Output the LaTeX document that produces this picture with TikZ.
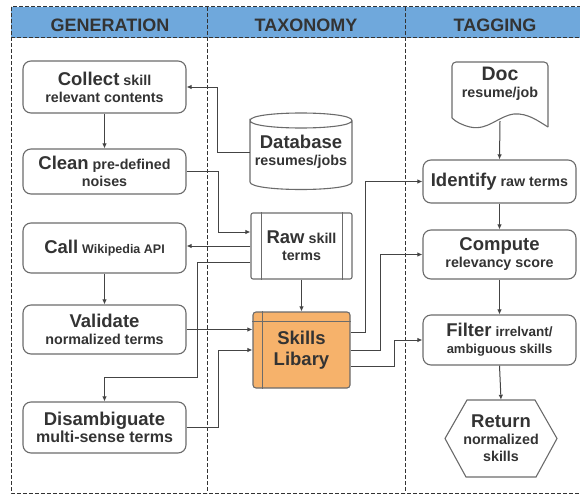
\documentclass[tikz,border=0pt]{standalone}
\usepackage{fontspec}
\setmainfont{Liberation Sans}
\usetikzlibrary{arrows.meta,calc}
\definecolor{hdr}{HTML}{6FA8DC}
\definecolor{org}{HTML}{F6B26B}
\definecolor{txt}{HTML}{333333}
\definecolor{ln}{HTML}{444444}
\definecolor{bd}{HTML}{6B6B6B}
\newcommand\bw[1]{{\fontsize{18.5}{17}\selectfont #1}}
\newcommand\sw[1]{{\fontsize{12.5}{17}\selectfont #1}}
\begin{document}
\begin{tikzpicture}[x=1pt,y=-1pt, font=\bfseries\fontsize{14.3}{17}\selectfont, text=txt,
 box/.style={draw=bd, line width=1.1pt, rounded corners=8pt, align=center, inner sep=0pt, minimum width=163pt},
 tbox/.style={box, minimum width=153pt},
 shp/.style={draw=bd, line width=1.1pt},
 arr/.style={draw=ln, line width=1pt, -{Latex[length=5pt,width=4.5pt]}},
 frame/.style={draw=txt, line width=1pt, dash pattern=on 4pt off 2pt},
 hdrtext/.style={font=\bfseries\fontsize{18}{20}\selectfont, anchor=base, text=txt}]

\useasboundingbox (0,0) rectangle (580,495);
% frame and header
\fill[hdr] (11,7) rectangle (584,38);
\draw[frame] (11,7) rectangle (584,493);
\draw[frame] (11,38) -- (584,38);
\draw[frame] (207,7) -- (207,493);
\draw[frame] (405,7) -- (405,493);
\node[hdrtext] (hgen) at (110,31.5) {GENERATION};
\node[hdrtext] (htax) at (306,31.5) {TAXONOMY};
\node[hdrtext] (htag) at (495,31.5) {TAGGING};

% generation column
\node[box, minimum height=52pt] (collect) at (104.5,87) {\bw{Collect} skill\\relevant contents};
\node[box, minimum height=45pt] (clean) at (104.5,171.5) {\bw{Clean} pre-defined\\noises};
\node[box, minimum height=50pt] (call) at (104.5,248) {\bw{Call} \sw{Wikipedia API}};
\node[box, minimum height=49pt] (validate) at (104.5,329.5) {\bw{Validate}\\normalized terms};
\node[box, minimum height=51pt] (disamb) at (104.5,427.5) {\bw{Disambiguate}\\{\fontsize{16}{17}\selectfont multi-sense terms}};

% taxonomy column
\draw[shp] (250,120.5) .. controls (250,110.5) and (352,110.5) .. (352,120.5)
  .. controls (352,130.5) and (250,130.5) .. (250,120.5) -- (250,182)
  .. controls (250,192) and (352,192) .. (352,182) -- (352,120.5);
\node[align=center, inner sep=0pt, minimum width=102pt, minimum height=77pt] (db) at (301,152) {\bw{Database}\\resumes/jobs};

\node[shp, rounded corners=2pt, minimum width=101pt, minimum height=66pt, inner sep=0pt, align=center] (raw) at (301.5,246) {\bw{Raw} skill\\terms};
\draw[shp] ([xshift=11pt]raw.north west) -- ([xshift=11pt]raw.south west);
\draw[shp] ([xshift=-10pt]raw.north east) -- ([xshift=-10pt]raw.south east);

\node[shp, fill=org, rounded corners=3pt, minimum width=97pt, minimum height=76pt, inner sep=0pt, align=center] (lib) at (301.5,350) {\bw{Skills}\\[4pt]\bw{Libary}};
\draw[shp] ([xshift=10pt]lib.north west) -- ([xshift=10pt]lib.south west);
\draw[shp] ([yshift=-10pt]lib.north west) -- ([yshift=-10pt]lib.north east);

% tagging column
\draw[shp, rounded corners=4pt] (452,118) -- (452,62) -- (548,62) -- (548,127);
\draw[shp] (548,127) .. controls (538,121) and (528,113) .. (514,114)
  .. controls (498,116) and (488,131) .. (470,127)
  .. controls (462,125) and (456,122) .. (452,118);
\node[align=center, inner sep=0pt] (doc) at (500,84) {{\fontsize{19.5}{17}\selectfont Doc}\\resume/job};
\coordinate (docb) at (500,121);

\node[tbox, minimum height=43pt] (identify) at (499.5,181.5) {\bw{Identify} raw terms};
\node[tbox, minimum height=49pt] (compute) at (499.5,254.5) {\bw{Compute}\\relevancy score};
\node[tbox, minimum height=50pt] (filter) at (499.5,340) {\bw{Filter} {\fontsize{13.5}{17}\selectfont irrelvant/}\\{\fontsize{13}{17}\selectfont ambiguous skills}};

\draw[shp] (445,438.5) -- (467,400) -- (535,400) -- (557,438.5) -- (536,477) -- (466,477) -- cycle;
\node[align=center, inner sep=0pt, minimum width=112pt, minimum height=77pt] (ret) at (501,438.5) {\bw{Return}\\normalized\\skills};

% connectors
\draw[arr] (collect.south) -- (clean.north);
\draw[arr] (call.south) -- (validate.north);
\draw[arr] (db.west) -- ++(-32,0) |- (collect.east);
\draw[arr] (clean.east) -- ++(32,0) |- ([yshift=14pt]raw.west);
\draw[arr] (raw.west) -- (raw.west -| call.east);
\coordinate (k1) at (197,377);
\draw[arr] ([yshift=-16pt]raw.west) -| (k1) -| (disamb.north);
\draw[arr] (raw.south) -- (lib.north);
\draw[arr] (validate.east) -- (validate.east -| lib.west);
\draw[arr] (disamb.east) -- ++(32,0) |- (lib.west);
\draw[arr] ([yshift=18pt]lib.east) -- ++(15,0) |- (identify.west);
\draw[arr] (lib.east) -- ++(30,0) |- (compute.west);
\draw[arr] ([yshift=-16pt]lib.east) -- ++(44,0) |- (filter.west);
\draw[arr] (docb) -- (identify.north);
\draw[arr] (identify.south) -- (compute.north);
\draw[arr] (compute.south) -- (filter.north);
\draw[arr] (filter.south) -- (ret.north);
\end{tikzpicture}
\end{document}
